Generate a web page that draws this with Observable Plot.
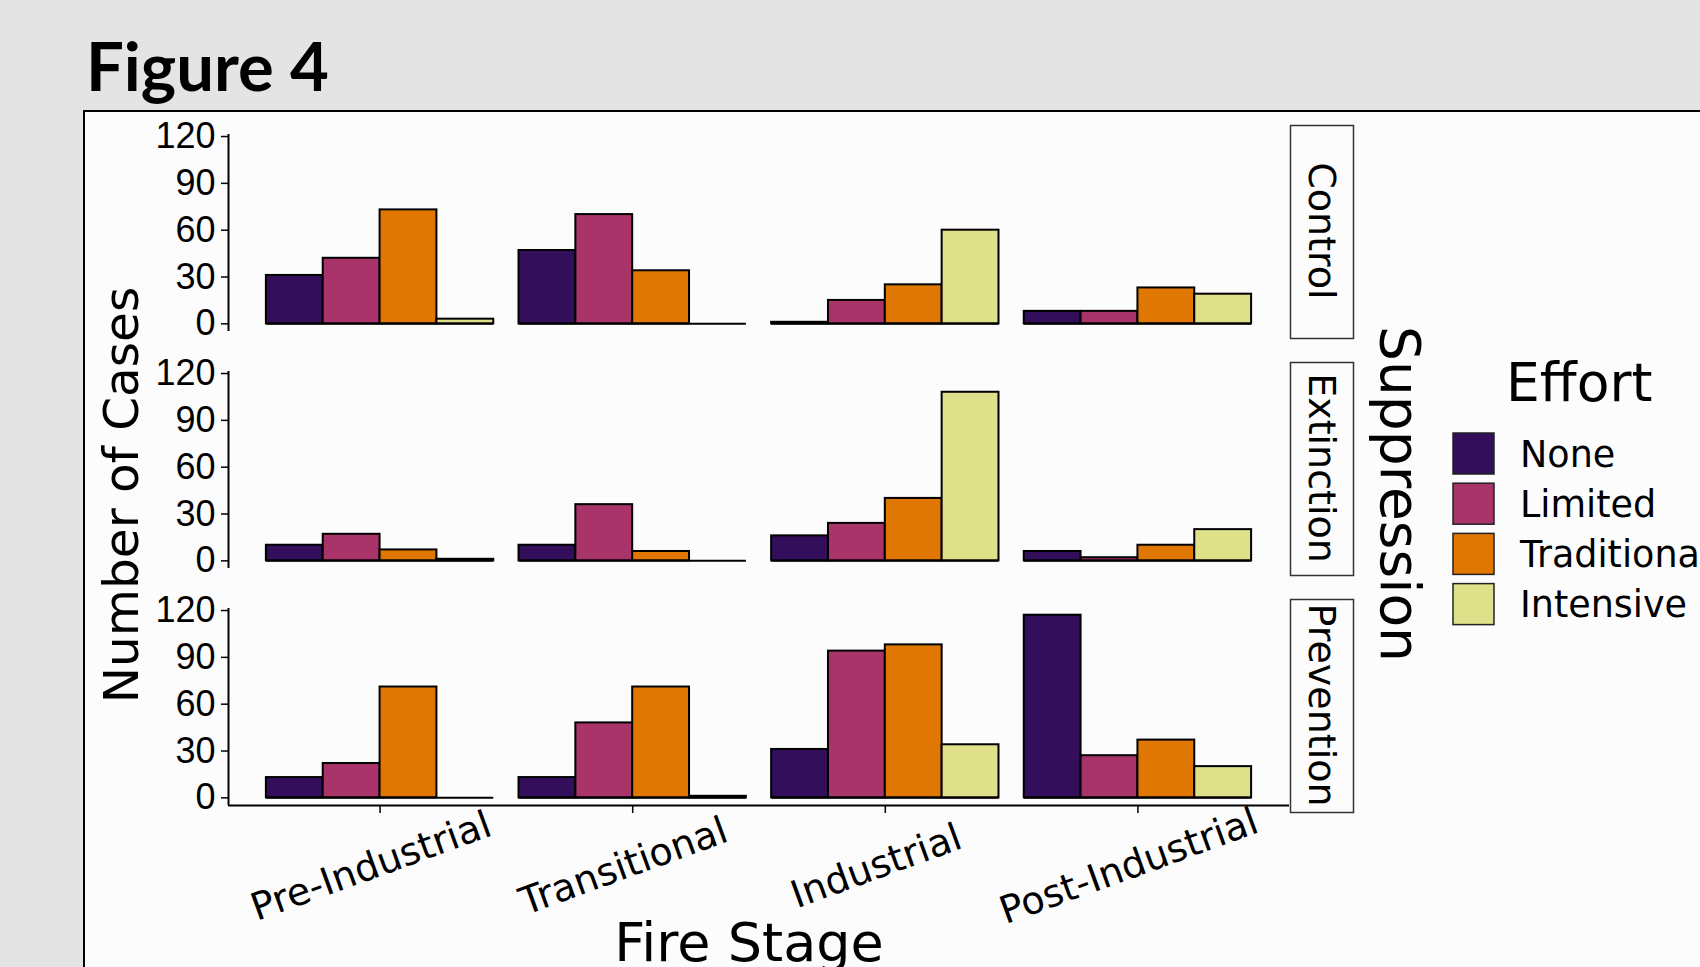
<!DOCTYPE html>
<html>
<head>
<meta charset="utf-8">
<script src="https://cdn.jsdelivr.net/npm/d3@7"></script>
<script src="https://cdn.jsdelivr.net/npm/@observablehq/plot@0.6"></script>
<style>
  html, body { margin: 0; padding: 0; width: 1700px; height: 967px; overflow: hidden; background: #e4e4e4; }
  #card { position: absolute; left: 83px; top: 110px; width: 1700px; height: 1000px; background: #fcfcfc; border: 2.5px solid #000; box-sizing: border-box; }
  svg.layer { position: absolute; left: 0; top: 0; }
</style>
</head>
<body>
<div id="card"></div>
<script>
// ---------- data ----------
const stages = ["Pre-Industrial", "Transitional", "Industrial", "Post-Industrial"];
const efforts = ["None", "Limited", "Traditional", "Intensive"];
const suppressions = ["Control", "Extinction", "Prevention"];
// counts per stage (rows), in effort order (columns)
const controlCounts    = [[31, 42, 73, 3], [47, 70, 34, 0], [1, 15, 25, 60], [8, 8, 23, 19]];
const extinctionCounts = [[10, 17, 7, 1], [10, 36, 6, 0], [16, 24, 40, 108], [6, 2, 10, 20]];
const preventionCounts = [[13, 22, 71, 0], [13, 48, 71, 1], [31, 94, 98, 34], [117, 27, 37, 20]];
const effortColors = ["#330e5a", "#a8346a", "#e07702", "#dee189"];
const yTicks = [0, 30, 60, 90, 120];
const xTitle = "Fire Stage";
const yTitle = "Number of Cases";
const facetTitle = "Suppression";
const legendTitle = "Effort";
const figureTitle = "Figure 4";

// ---------- table ----------
const countsBySuppression = [controlCounts, extinctionCounts, preventionCounts];
const rows = [];
suppressions.forEach((s, si) => {
  stages.forEach((st, i) => {
    efforts.forEach((e, j) => {
      rows.push({supp: s, stage: st, effort: e, si: i, ej: j, count: countsBySuppression[si][i][j]});
    });
  });
});

// ggplot-like discrete layout (dodged bars, total width 0.9, expansion 0.6)
const groupWidth = 0.9;
const barW = groupWidth / efforts.length;
const xDomain = [1 - 0.6, stages.length + 0.6];
const yDomain = [-4.9, 121.3];
const x1 = d => d.si + 1 - groupWidth / 2 + d.ej * barW;
const x2 = d => d.si + 1 - groupWidth / 2 + (d.ej + 1) * barW;
const stageTicks = stages.map((_, i) => i + 1);

const W = 1700, H = 967;
const mL = 228, mR = 411, mT = 133, mB = 162;

const chart = Plot.plot({
  width: W, height: H,
  marginLeft: mL, marginRight: mR, marginTop: mT, marginBottom: mB,
  style: {background: "transparent", fontFamily: "DejaVu Sans", color: "black", overflow: "visible"},
  x: {domain: xDomain},
  y: {domain: yDomain},
  fy: {domain: suppressions, paddingInner: 0.1705, paddingOuter: 0, axis: null, label: null},
  color: {domain: efforts, range: effortColors},
  marks: [
    // strip boxes
    Plot.frame({insetLeft: W - mL - mR + 1, insetRight: -64, insetTop: -9, insetBottom: -7, stroke: "#333", strokeWidth: 1.5}),
    Plot.text(suppressions, {fy: d => d, text: d => d, frameAnchor: "right", dx: 32, dy: -2, rotate: 90,
      fontSize: 38, textAnchor: "middle", lineAnchor: "middle", fill: "black"}),
    // bars
    Plot.rect(rows, {x1, x2, y1: 0, y2: "count", fy: "supp", fill: "effort", stroke: "black", strokeWidth: 2}),
    Plot.ruleY(rows, {x1, x2, y: 0, fy: "supp", stroke: "black", strokeWidth: 2}),
    // axis lines
    Plot.ruleX([xDomain[0]], {stroke: "black", strokeWidth: 2}),
    Plot.ruleY([suppressions[suppressions.length - 1]], {fy: d => d, y: () => yDomain[0], stroke: "black", strokeWidth: 2}),
    Plot.axisY({ticks: yTicks, tickSize: 7, tickPadding: 6, fontSize: 36, fontFamily: "Liberation Sans",
      strokeWidth: 1.5, label: null}),
    // x tick marks
    Plot.axisX({ticks: stageTicks, tickFormat: () => "", tickSize: 8, strokeWidth: 1.5, label: null}),
    // x tick labels
    Plot.axisX({ticks: stageTicks, tickFormat: i => stages[i - 1], tickSize: 0, tickPadding: 61,
      tickRotate: -20, textAnchor: "middle", lineAnchor: "middle", dx: -9, fontSize: 38, label: null})
  ]
});
chart.classList.add("layer");
document.body.appendChild(chart);

// ---------- titles & legend ----------
const ov = d3.select("body").append("svg").attr("class", "layer")
  .attr("width", W).attr("height", H).style("pointer-events", "none");

ov.append("text").attr("x", 86).attr("y", 91)
  .attr("font-family", "Lato").attr("font-weight", 700).attr("font-size", 67).attr("fill", "black")
  .text(figureTitle);

ov.append("text").attr("transform", "translate(138,495) rotate(-90)")
  .attr("text-anchor", "middle").attr("font-family", "DejaVu Sans").attr("font-size", 48.5).attr("fill", "black")
  .text(yTitle);

ov.append("text").attr("transform", "translate(1381,494) rotate(90)")
  .attr("text-anchor", "middle").attr("font-family", "DejaVu Sans").attr("font-size", 55).attr("fill", "black")
  .text(facetTitle);

ov.append("text").attr("x", 749).attr("y", 961)
  .attr("text-anchor", "middle").attr("font-family", "DejaVu Sans").attr("font-size", 54).attr("fill", "black")
  .text(xTitle);

ov.append("text").attr("x", 1506).attr("y", 401)
  .attr("font-family", "DejaVu Sans").attr("font-size", 53.5).attr("fill", "black")
  .text(legendTitle);

const leg = ov.append("g");
efforts.forEach((e, i) => {
  const top = 433 + i * 50.2;
  leg.append("rect").attr("x", 1453).attr("y", top).attr("width", 41).attr("height", 41)
    .attr("fill", effortColors[i]).attr("stroke", "#222").attr("stroke-width", 1.5);
  leg.append("text").attr("x", 1520).attr("y", top + 20.5 + 13)
    .attr("font-family", "DejaVu Sans").attr("font-size", 36.5).attr("fill", "black").text(e);
});
</script>
</body>
</html>
